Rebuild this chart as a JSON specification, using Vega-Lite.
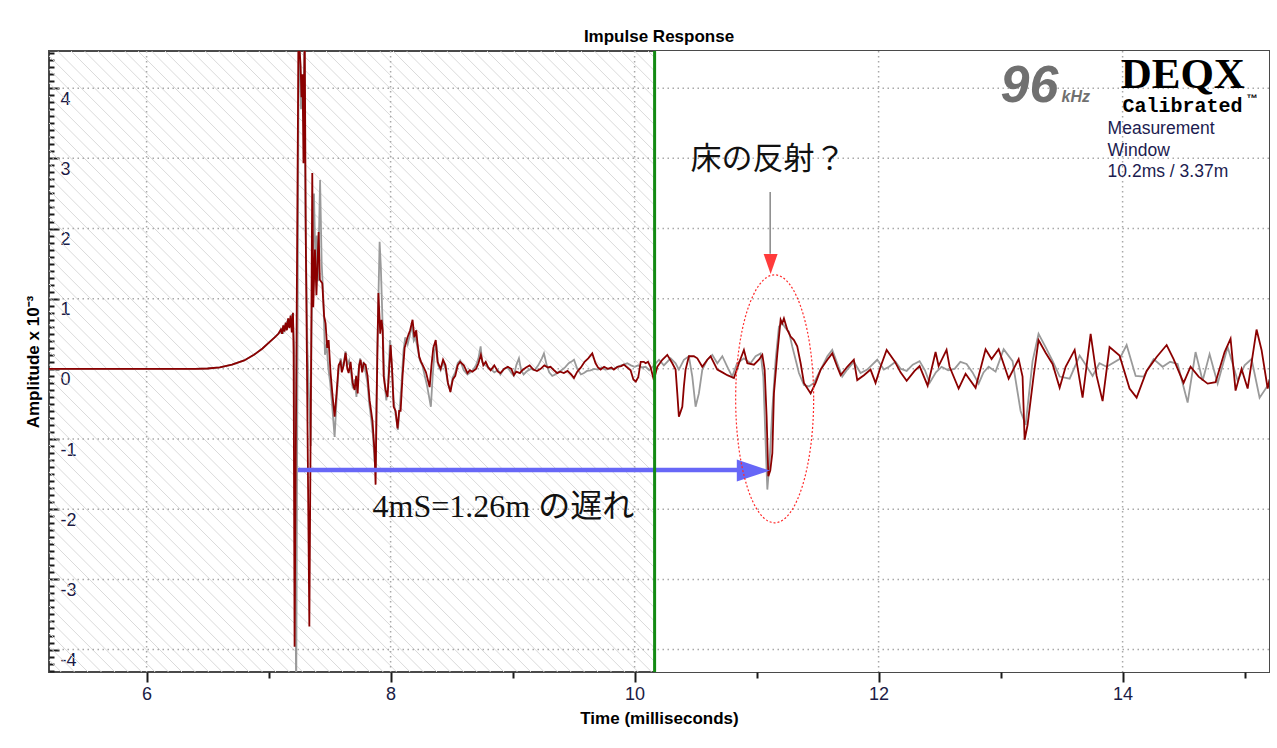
{
  "$schema": "https://vega.github.io/schema/vega-lite/v6.json",
  "width": 1220,
  "height": 621,
  "autosize": {"type": "none"},
  "padding": {"left": 49, "top": 51, "right": 8, "bottom": 76},
  "background": "white",
  "config": {"view": {"stroke": "#4a4a4a", "strokeWidth": 2}},
  "title": {"text": "Impulse Response", "font": "Liberation Sans", "fontSize": 17, "fontWeight": "bold", "color": "#000000", "anchor": "middle", "frame": "group", "offset": 4},
  "datasets": {
    "hatch": [{"h":0.1},{"h":0.21},{"h":0.32},{"h":0.43},{"h":0.54},{"h":0.65},{"h":0.76},{"h":0.87},{"h":0.98},{"h":1.09},{"h":1.2},{"h":1.31},{"h":1.42},{"h":1.53},{"h":1.64},{"h":1.75},{"h":1.86},{"h":1.97},{"h":2.08},{"h":2.19},{"h":2.3},{"h":2.41},{"h":2.52},{"h":2.63},{"h":2.74},{"h":2.85},{"h":2.96},{"h":3.07},{"h":3.18},{"h":3.29},{"h":3.4},{"h":3.51},{"h":3.62},{"h":3.73},{"h":3.84},{"h":3.95},{"h":4.06},{"h":4.17},{"h":4.28},{"h":4.39},{"h":4.5},{"h":4.61},{"h":4.72},{"h":4.83},{"h":4.94},{"h":5.05},{"h":5.16},{"h":5.27},{"h":5.38},{"h":5.49},{"h":5.6},{"h":5.71},{"h":5.82},{"h":5.93},{"h":6.04},{"h":6.15},{"h":6.26},{"h":6.37},{"h":6.48},{"h":6.59},{"h":6.7},{"h":6.81},{"h":6.92},{"h":7.03},{"h":7.14},{"h":7.25},{"h":7.36},{"h":7.47},{"h":7.58},{"h":7.69},{"h":7.8},{"h":7.91},{"h":8.02},{"h":8.13},{"h":8.24},{"h":8.35},{"h":8.46},{"h":8.57},{"h":8.68},{"h":8.79},{"h":8.9},{"h":9.01},{"h":9.12},{"h":9.23},{"h":9.34},{"h":9.45},{"h":9.56},{"h":9.67},{"h":9.78},{"h":9.89},{"h":10.0},{"h":10.11}],
    "xgrid": [{"v":6},{"v":8},{"v":10},{"v":12},{"v":14}],
    "ygrid": [{"v":-4},{"v":-3},{"v":-2},{"v":-1},{"v":0},{"v":1},{"v":2},{"v":3},{"v":4}],
    "gray": [{"t":5.2,"a":0},{"t":6.4,"a":0},{"t":6.5,"a":0.005},{"t":6.6,"a":0.02},{"t":6.7,"a":0.06},{"t":6.8,"a":0.12},{"t":6.88,"a":0.2},{"t":6.95,"a":0.29},{"t":7.0,"a":0.37},{"t":7.05,"a":0.45},{"t":7.08,"a":0.5},{"t":7.1,"a":0.52},{"t":7.11,"a":0.58},{"t":7.12,"a":0.5},{"t":7.13,"a":0.63},{"t":7.14,"a":0.55},{"t":7.15,"a":0.68},{"t":7.16,"a":0.6},{"t":7.17,"a":0.72},{"t":7.18,"a":0.62},{"t":7.19,"a":0.78},{"t":7.2,"a":0.7},{"t":7.21,"a":0.3},{"t":7.226,"a":-4.8},{"t":7.247,"a":4.8},{"t":7.258,"a":4.3},{"t":7.266,"a":3.7},{"t":7.275,"a":4.1},{"t":7.284,"a":3.6},{"t":7.293,"a":4.6},{"t":7.302,"a":2.2},{"t":7.318,"a":0.3},{"t":7.345,"a":-1.1},{"t":7.352,"a":0.5},{"t":7.372,"a":2.5},{"t":7.385,"a":1.4},{"t":7.395,"a":1.9},{"t":7.405,"a":1.25},{"t":7.422,"a":2.69},{"t":7.435,"a":1.5},{"t":7.448,"a":1.05},{"t":7.462,"a":0.2},{"t":7.475,"a":0.35},{"t":7.49,"a":0.0},{"t":7.505,"a":-0.2},{"t":7.52,"a":-0.5},{"t":7.541,"a":-0.97},{"t":7.557,"a":-0.45},{"t":7.574,"a":0.0},{"t":7.59,"a":0.15},{"t":7.605,"a":0.0},{"t":7.62,"a":0.12},{"t":7.631,"a":0.25},{"t":7.645,"a":0.05},{"t":7.66,"a":0.12},{"t":7.675,"a":-0.05},{"t":7.69,"a":-0.28},{"t":7.705,"a":-0.15},{"t":7.72,"a":-0.4},{"t":7.735,"a":-0.05},{"t":7.75,"a":0.15},{"t":7.765,"a":0.0},{"t":7.78,"a":0.1},{"t":7.795,"a":-0.05},{"t":7.81,"a":-0.2},{"t":7.825,"a":-0.5},{"t":7.84,"a":-0.7},{"t":7.855,"a":-0.95},{"t":7.868,"a":-1.3},{"t":7.878,"a":-1.45},{"t":7.89,"a":0.2},{"t":7.91,"a":1.81},{"t":7.92,"a":1.45},{"t":7.935,"a":0.6},{"t":7.95,"a":-0.2},{"t":7.965,"a":-0.45},{"t":7.98,"a":-0.2},{"t":7.995,"a":0.41},{"t":8.01,"a":0.05},{"t":8.025,"a":-0.45},{"t":8.045,"a":-0.7},{"t":8.06,"a":-0.87},{"t":8.075,"a":-0.55},{"t":8.09,"a":-0.2},{"t":8.105,"a":0.25},{"t":8.12,"a":0.45},{"t":8.14,"a":0.35},{"t":8.16,"a":0.5},{"t":8.175,"a":0.62},{"t":8.19,"a":0.4},{"t":8.205,"a":0.45},{"t":8.22,"a":0.3},{"t":8.24,"a":0.12},{"t":8.26,"a":0.05},{"t":8.28,"a":-0.1},{"t":8.3,"a":-0.25},{"t":8.33,"a":-0.54},{"t":8.345,"a":-0.1},{"t":8.36,"a":0.25},{"t":8.375,"a":0.35},{"t":8.39,"a":0.05},{"t":8.41,"a":-0.02},{"t":8.43,"a":0.1},{"t":8.45,"a":0.0},{"t":8.47,"a":-0.22},{"t":8.49,"a":-0.3},{"t":8.51,"a":-0.12},{"t":8.53,"a":-0.05},{"t":8.55,"a":0.08},{"t":8.57,"a":0.12},{"t":8.6,"a":-0.02},{"t":8.63,"a":-0.08},{"t":8.67,"a":-0.03},{"t":8.7,"a":0.05},{"t":8.72,"a":0.15},{"t":8.738,"a":0.32},{"t":8.75,"a":0.1},{"t":8.77,"a":0.06},{"t":8.8,"a":0.02},{"t":8.82,"a":0.0},{"t":8.85,"a":-0.05},{"t":8.88,"a":-0.02},{"t":8.9,"a":-0.08},{"t":8.93,"a":0.0},{"t":8.96,"a":0.02},{"t":8.99,"a":-0.06},{"t":9.01,"a":-0.1},{"t":9.03,"a":0.05},{"t":9.052,"a":0.15},{"t":9.07,"a":-0.02},{"t":9.09,"a":-0.08},{"t":9.12,"a":-0.03},{"t":9.15,"a":0.0},{"t":9.18,"a":-0.02},{"t":9.21,"a":0.05},{"t":9.24,"a":0.15},{"t":9.257,"a":0.22},{"t":9.28,"a":0.05},{"t":9.3,"a":-0.05},{"t":9.325,"a":-0.1},{"t":9.35,"a":-0.08},{"t":9.37,"a":-0.05},{"t":9.4,"a":-0.02},{"t":9.43,"a":0.02},{"t":9.46,"a":0.08},{"t":9.48,"a":0.1},{"t":9.503,"a":0.13},{"t":9.53,"a":0.0},{"t":9.56,"a":-0.08},{"t":9.585,"a":-0.06},{"t":9.61,"a":-0.03},{"t":9.64,"a":-0.02},{"t":9.67,"a":0.0},{"t":9.7,"a":-0.01},{"t":9.73,"a":0.02},{"t":9.76,"a":-0.01},{"t":9.8,"a":0.0},{"t":9.83,"a":0.0},{"t":9.86,"a":0.03},{"t":9.89,"a":0.05},{"t":9.91,"a":0.06},{"t":9.94,"a":0.08},{"t":9.97,"a":0.05},{"t":10.0,"a":0.03},{"t":10.03,"a":0.05},{"t":10.06,"a":0.02},{"t":10.09,"a":0.03},{"t":10.12,"a":-0.02},{"t":10.158,"a":0.05},{"t":10.2,"a":0.13},{"t":10.24,"a":0.05},{"t":10.295,"a":0.15},{"t":10.336,"a":0.08},{"t":10.363,"a":-0.01},{"t":10.404,"a":0.13},{"t":10.445,"a":0.18},{"t":10.473,"a":-0.11},{"t":10.5,"a":-0.54},{"t":10.527,"a":-0.35},{"t":10.555,"a":-0.01},{"t":10.596,"a":0.13},{"t":10.637,"a":0.2},{"t":10.678,"a":0.08},{"t":10.719,"a":0.18},{"t":10.76,"a":0.03},{"t":10.8,"a":-0.11},{"t":10.84,"a":0.08},{"t":10.896,"a":0.15},{"t":10.95,"a":0.08},{"t":10.992,"a":0.18},{"t":11.033,"a":0.22},{"t":11.055,"a":-0.11},{"t":11.074,"a":-1.06},{"t":11.088,"a":-1.72},{"t":11.107,"a":-1.3},{"t":11.129,"a":-0.58},{"t":11.156,"a":0.13},{"t":11.183,"a":0.6},{"t":11.21,"a":0.65},{"t":11.238,"a":0.58},{"t":11.265,"a":0.53},{"t":11.292,"a":0.32},{"t":11.32,"a":0.13},{"t":11.347,"a":-0.06},{"t":11.388,"a":-0.23},{"t":11.429,"a":-0.25},{"t":11.47,"a":-0.2},{"t":11.525,"a":-0.01},{"t":11.58,"a":0.18},{"t":11.62,"a":0.27},{"t":11.661,"a":0.08},{"t":11.702,"a":-0.11},{"t":11.743,"a":-0.01},{"t":11.797,"a":0.1},{"t":11.852,"a":-0.06},{"t":11.907,"a":-0.01},{"t":11.989,"a":0.13},{"t":12.043,"a":-0.01},{"t":12.085,"a":0.03},{"t":12.139,"a":0.1},{"t":12.18,"a":0.0},{"t":12.23,"a":-0.03},{"t":12.28,"a":0.06},{"t":12.336,"a":0.11},{"t":12.38,"a":-0.02},{"t":12.418,"a":-0.2},{"t":12.47,"a":-0.05},{"t":12.516,"a":0.03},{"t":12.57,"a":-0.02},{"t":12.623,"a":0.0},{"t":12.67,"a":0.1},{"t":12.721,"a":0.07},{"t":12.77,"a":-0.05},{"t":12.82,"a":-0.21},{"t":12.86,"a":-0.05},{"t":12.902,"a":0.03},{"t":12.959,"a":-0.04},{"t":13.025,"a":0.28},{"t":13.098,"a":0.11},{"t":13.164,"a":-0.6},{"t":13.205,"a":-0.8},{"t":13.262,"a":0.11},{"t":13.311,"a":0.5},{"t":13.369,"a":0.31},{"t":13.43,"a":0.1},{"t":13.484,"a":-0.11},{"t":13.566,"a":-0.14},{"t":13.648,"a":0.19},{"t":13.7,"a":0.05},{"t":13.754,"a":-0.1},{"t":13.81,"a":0.08},{"t":13.869,"a":0.03},{"t":13.975,"a":0.14},{"t":14.033,"a":0.34},{"t":14.107,"a":-0.1},{"t":14.172,"a":-0.11},{"t":14.254,"a":0.14},{"t":14.328,"a":0.03},{"t":14.39,"a":0.1},{"t":14.451,"a":0.07},{"t":14.533,"a":-0.48},{"t":14.598,"a":0.24},{"t":14.656,"a":-0.17},{"t":14.713,"a":0.21},{"t":14.779,"a":-0.21},{"t":14.861,"a":0.31},{"t":14.943,"a":-0.17},{"t":15.0,"a":0.05},{"t":15.057,"a":0.14},{"t":15.123,"a":-0.41},{"t":15.189,"a":-0.24},{"t":15.238,"a":0.03}],
    "red": [{"t":5.2,"a":0},{"t":6.4,"a":0},{"t":6.5,"a":0.005},{"t":6.6,"a":0.02},{"t":6.7,"a":0.06},{"t":6.8,"a":0.12},{"t":6.88,"a":0.2},{"t":6.95,"a":0.29},{"t":7.0,"a":0.37},{"t":7.05,"a":0.45},{"t":7.08,"a":0.5},{"t":7.1,"a":0.56},{"t":7.11,"a":0.5},{"t":7.12,"a":0.62},{"t":7.13,"a":0.53},{"t":7.14,"a":0.66},{"t":7.15,"a":0.55},{"t":7.16,"a":0.72},{"t":7.17,"a":0.58},{"t":7.18,"a":0.76},{"t":7.19,"a":0.52},{"t":7.2,"a":0.8},{"t":7.205,"a":0.23},{"t":7.213,"a":-3.96},{"t":7.245,"a":4.8},{"t":7.262,"a":4.33},{"t":7.27,"a":3.87},{"t":7.278,"a":4.2},{"t":7.286,"a":2.93},{"t":7.296,"a":4.8},{"t":7.305,"a":1.84},{"t":7.334,"a":-3.67},{"t":7.35,"a":0.5},{"t":7.358,"a":2.79},{"t":7.366,"a":0.88},{"t":7.38,"a":1.7},{"t":7.392,"a":1.05},{"t":7.41,"a":1.95},{"t":7.42,"a":1.27},{"t":7.44,"a":1.22},{"t":7.455,"a":0.75},{"t":7.467,"a":0.65},{"t":7.48,"a":0.3},{"t":7.492,"a":0.41},{"t":7.508,"a":-0.06},{"t":7.525,"a":-0.4},{"t":7.541,"a":-0.68},{"t":7.557,"a":-0.35},{"t":7.574,"a":0.05},{"t":7.59,"a":0.1},{"t":7.6,"a":-0.05},{"t":7.615,"a":0.05},{"t":7.631,"a":0.23},{"t":7.645,"a":0.0},{"t":7.656,"a":-0.06},{"t":7.672,"a":0.1},{"t":7.689,"a":-0.2},{"t":7.705,"a":-0.3},{"t":7.718,"a":-0.1},{"t":7.73,"a":-0.35},{"t":7.742,"a":0.05},{"t":7.754,"a":0.13},{"t":7.767,"a":-0.05},{"t":7.779,"a":0.08},{"t":7.795,"a":0.06},{"t":7.811,"a":-0.1},{"t":7.828,"a":-0.45},{"t":7.84,"a":-0.6},{"t":7.852,"a":-0.75},{"t":7.869,"a":-1.2},{"t":7.877,"a":-1.65},{"t":7.885,"a":-0.5},{"t":7.9,"a":1.08},{"t":7.915,"a":0.5},{"t":7.926,"a":0.7},{"t":7.935,"a":0.55},{"t":7.943,"a":-0.1},{"t":7.959,"a":-0.3},{"t":7.975,"a":-0.4},{"t":7.99,"a":0.05},{"t":8.0,"a":0.34},{"t":8.012,"a":0.0},{"t":8.025,"a":-0.54},{"t":8.041,"a":-0.6},{"t":8.057,"a":-0.85},{"t":8.07,"a":-0.6},{"t":8.082,"a":-0.6},{"t":8.098,"a":-0.1},{"t":8.115,"a":0.3},{"t":8.139,"a":0.45},{"t":8.16,"a":0.55},{"t":8.18,"a":0.7},{"t":8.195,"a":0.45},{"t":8.21,"a":0.55},{"t":8.22,"a":0.37},{"t":8.235,"a":0.17},{"t":8.25,"a":0.1},{"t":8.27,"a":0.03},{"t":8.29,"a":-0.05},{"t":8.32,"a":-0.26},{"t":8.335,"a":0.05},{"t":8.35,"a":0.3},{"t":8.37,"a":0.41},{"t":8.385,"a":0.1},{"t":8.41,"a":0.0},{"t":8.43,"a":0.13},{"t":8.45,"a":0.05},{"t":8.47,"a":-0.2},{"t":8.49,"a":-0.33},{"t":8.51,"a":-0.15},{"t":8.53,"a":-0.1},{"t":8.55,"a":0.05},{"t":8.57,"a":0.1},{"t":8.6,"a":0.05},{"t":8.63,"a":-0.06},{"t":8.65,"a":-0.02},{"t":8.67,"a":-0.04},{"t":8.7,"a":0.0},{"t":8.72,"a":0.08},{"t":8.74,"a":0.2},{"t":8.76,"a":0.05},{"t":8.78,"a":0.1},{"t":8.8,"a":0.02},{"t":8.82,"a":-0.02},{"t":8.85,"a":0.05},{"t":8.88,"a":-0.04},{"t":8.9,"a":-0.06},{"t":8.93,"a":0.0},{"t":8.96,"a":0.03},{"t":8.99,"a":0.0},{"t":9.01,"a":-0.09},{"t":9.03,"a":-0.04},{"t":9.06,"a":-0.06},{"t":9.08,"a":-0.02},{"t":9.11,"a":0.02},{"t":9.14,"a":0.05},{"t":9.17,"a":-0.01},{"t":9.2,"a":-0.03},{"t":9.23,"a":0.0},{"t":9.26,"a":0.05},{"t":9.29,"a":0.02},{"t":9.311,"a":0.03},{"t":9.34,"a":-0.02},{"t":9.366,"a":-0.06},{"t":9.39,"a":-0.04},{"t":9.42,"a":-0.06},{"t":9.45,"a":-0.03},{"t":9.48,"a":-0.08},{"t":9.503,"a":-0.13},{"t":9.53,"a":-0.04},{"t":9.56,"a":0.02},{"t":9.59,"a":0.1},{"t":9.62,"a":0.15},{"t":9.653,"a":0.22},{"t":9.68,"a":0.08},{"t":9.7,"a":0.02},{"t":9.721,"a":-0.01},{"t":9.75,"a":0.03},{"t":9.78,"a":0.0},{"t":9.81,"a":0.02},{"t":9.83,"a":-0.01},{"t":9.86,"a":0.03},{"t":9.89,"a":0.04},{"t":9.912,"a":0.06},{"t":9.94,"a":0.02},{"t":9.967,"a":-0.02},{"t":9.99,"a":-0.15},{"t":10.01,"a":-0.18},{"t":10.03,"a":-0.12},{"t":10.05,"a":0.1},{"t":10.076,"a":0.1},{"t":10.09,"a":0.08},{"t":10.11,"a":0.1},{"t":10.13,"a":0.03},{"t":10.158,"a":-0.16},{"t":10.186,"a":0.03},{"t":10.227,"a":0.13},{"t":10.268,"a":0.2},{"t":10.309,"a":0.08},{"t":10.336,"a":-0.01},{"t":10.35,"a":-0.35},{"t":10.363,"a":-0.68},{"t":10.391,"a":-0.54},{"t":10.404,"a":-0.25},{"t":10.418,"a":-0.01},{"t":10.445,"a":0.18},{"t":10.486,"a":0.18},{"t":10.514,"a":0.15},{"t":10.555,"a":0.03},{"t":10.596,"a":0.13},{"t":10.623,"a":0.18},{"t":10.678,"a":-0.01},{"t":10.72,"a":-0.05},{"t":10.76,"a":-0.09},{"t":10.814,"a":-0.13},{"t":10.855,"a":0.08},{"t":10.896,"a":0.27},{"t":10.924,"a":0.08},{"t":10.978,"a":0.06},{"t":11.019,"a":0.13},{"t":11.047,"a":0.2},{"t":11.066,"a":-0.01},{"t":11.082,"a":-0.68},{"t":11.096,"a":-1.53},{"t":11.112,"a":-1.45},{"t":11.129,"a":-1.2},{"t":11.142,"a":-0.35},{"t":11.17,"a":0.22},{"t":11.197,"a":0.7},{"t":11.21,"a":0.65},{"t":11.224,"a":0.72},{"t":11.251,"a":0.56},{"t":11.279,"a":0.46},{"t":11.306,"a":0.41},{"t":11.333,"a":0.32},{"t":11.361,"a":0.08},{"t":11.388,"a":-0.2},{"t":11.443,"a":-0.35},{"t":11.484,"a":-0.2},{"t":11.525,"a":-0.01},{"t":11.58,"a":0.13},{"t":11.62,"a":0.22},{"t":11.661,"a":0.03},{"t":11.689,"a":-0.09},{"t":11.743,"a":0.03},{"t":11.797,"a":0.13},{"t":11.825,"a":-0.16},{"t":11.88,"a":-0.09},{"t":11.934,"a":-0.01},{"t":11.975,"a":-0.2},{"t":12.016,"a":0.03},{"t":12.066,"a":0.27},{"t":12.131,"a":0.11},{"t":12.18,"a":-0.05},{"t":12.23,"a":-0.17},{"t":12.295,"a":-0.03},{"t":12.336,"a":0.04},{"t":12.402,"a":-0.24},{"t":12.467,"a":0.24},{"t":12.492,"a":0.04},{"t":12.557,"a":0.27},{"t":12.582,"a":0.03},{"t":12.656,"a":-0.28},{"t":12.713,"a":-0.07},{"t":12.795,"a":-0.27},{"t":12.877,"a":0.28},{"t":12.926,"a":0.14},{"t":12.984,"a":0.28},{"t":13.066,"a":-0.14},{"t":13.148,"a":0.14},{"t":13.18,"a":-0.11},{"t":13.197,"a":-1.01},{"t":13.221,"a":-0.8},{"t":13.27,"a":-0.11},{"t":13.311,"a":0.41},{"t":13.369,"a":0.23},{"t":13.426,"a":0.07},{"t":13.484,"a":-0.27},{"t":13.533,"a":0.03},{"t":13.607,"a":0.27},{"t":13.672,"a":-0.41},{"t":13.738,"a":0.5},{"t":13.787,"a":-0.1},{"t":13.836,"a":-0.46},{"t":13.893,"a":0.31},{"t":13.975,"a":0.19},{"t":14.057,"a":-0.28},{"t":14.115,"a":-0.41},{"t":14.197,"a":-0.03},{"t":14.279,"a":0.17},{"t":14.361,"a":0.34},{"t":14.418,"a":0.14},{"t":14.5,"a":-0.2},{"t":14.557,"a":0.03},{"t":14.623,"a":-0.11},{"t":14.697,"a":-0.21},{"t":14.762,"a":-0.19},{"t":14.836,"a":0.24},{"t":14.885,"a":0.43},{"t":14.926,"a":-0.31},{"t":14.975,"a":0.0},{"t":15.025,"a":-0.28},{"t":15.098,"a":0.56},{"t":15.139,"a":0.27},{"t":15.189,"a":-0.28},{"t":15.238,"a":0.1}]
  },
  "layer": [
    {
      "data": {"name": "hatch"},
      "mark": {"type": "rule", "clip": true, "stroke": "#dadada", "strokeWidth": 1, "x2Offset": 621},
      "encoding": {
        "x": {"field": "h", "type": "quantitative"},
        "x2": {"field": "h"},
        "y": {"datum": 4.53, "type": "quantitative"},
        "y2": {"datum": -4.32}
      }
    },
    {
      "data": {"values": [{}]},
      "mark": {"type": "rect", "fill": "#ffffff"},
      "encoding": {
        "x": {"datum": 10.165, "type": "quantitative"},
        "x2": {"datum": 15.2},
        "y": {"datum": 4.53, "type": "quantitative"},
        "y2": {"datum": -4.32}
      }
    },
    {
      "data": {"name": "xgrid"},
      "mark": {"type": "rule", "stroke": "#a8a8a8", "strokeWidth": 1.5, "strokeDash": [1.5, 3.5]},
      "encoding": {"x": {"field": "v", "type": "quantitative"}}
    },
    {
      "data": {"name": "ygrid"},
      "mark": {"type": "rule", "stroke": "#a8a8a8", "strokeWidth": 1.5, "strokeDash": [1.5, 3.5]},
      "encoding": {"y": {"field": "v", "type": "quantitative"}}
    },
    {
      "data": {"name": "gray"},
      "mark": {"type": "line", "clip": true, "stroke": "#9a9a9a", "strokeWidth": 1.8},
      "encoding": {
        "x": {"field": "t", "type": "quantitative", "scale": {"domain": [5.2, 15.2], "nice": false, "zero": false},
          "axis": {"title": "Time (milliseconds)", "titleFont": "Liberation Sans", "titleFontSize": 17, "titleFontWeight": "bold", "titleColor": "#000000", "titlePadding": 7,
            "values": [6, 7, 8, 9, 10, 11, 12, 13, 14, 15], "grid": false, "domain": false,
            "tickColor": "#1a1a1a", "tickWidth": 2,
            "tickSize": {"condition": {"test": "datum.value % 2 === 1", "value": 6}, "value": 10},
            "labelExpr": "datum.value % 2 === 0 ? '' + datum.value : ''",
            "labelFont": "Liberation Sans", "labelFontSize": 18, "labelColor": "#1b1b45", "labelPadding": 3,
            "labelOverlap": false, "labelFlush": false}},
        "y": {"field": "a", "type": "quantitative", "scale": {"domain": [-4.32, 4.53], "nice": false, "zero": false},
          "axis": {"title": "Amplitude x 10⁻³", "titleFont": "Liberation Sans", "titleFontSize": 17, "titleFontWeight": "bold", "titleColor": "#000000", "titlePadding": 6,
            "tickCount": 90, "grid": false, "domain": false,
            "tickColor": "#1a1a1a", "tickWidth": 2,
            "tickSize": {"condition": {"test": "abs(datum.value - round(datum.value)) < 0.01", "value": -10}, "value": -5},
            "labelExpr": "abs(datum.value - round(datum.value)) < 0.01 ? '' + round(datum.value) : ''",
            "labelAlign": "left", "labelBaseline": "top", "labelOffset": 2, "labelPadding": -1,
            "labelFont": "Liberation Sans", "labelFontSize": 18, "labelColor": "#1b1b45",
            "labelOverlap": false, "labelFlush": false, "labelBound": false}}
      }
    },
    {
      "data": {"name": "red"},
      "mark": {"type": "line", "clip": true, "stroke": "#8b0000", "strokeWidth": 1.8},
      "encoding": {"x": {"field": "t", "type": "quantitative"}, "y": {"field": "a", "type": "quantitative"}}
    },
    {
      "data": {"values": [{}]},
      "mark": {"type": "rule", "stroke": "#6767f7", "strokeWidth": 4.5},
      "encoding": {
        "x": {"datum": 7.24, "type": "quantitative"},
        "x2": {"datum": 10.85},
        "y": {"datum": -1.44, "type": "quantitative"}
      }
    },
    {
      "data": {"values": [{}]},
      "mark": {"type": "point", "shape": "M -1 -0.667 L 1 0 L -1 0.667 Z", "size": 1089, "filled": true, "fill": "#6767f7", "strokeWidth": 0, "opacity": 1},
      "encoding": {
        "x": {"datum": 10.973, "type": "quantitative"},
        "y": {"datum": -1.45, "type": "quantitative"}
      }
    },
    {
      "data": {"values": [{}]},
      "mark": {"type": "rule", "stroke": "#138a13", "strokeWidth": 3},
      "encoding": {"x": {"datum": 10.164, "type": "quantitative"}}
    },
    {
      "data": {"values": [{}]},
      "mark": {"type": "point", "shape": "M 0.3145 0 C 0.3145 0.5523 0.1737 1 0 1 C -0.1737 1 -0.3145 0.5523 -0.3145 0 C -0.3145 -0.5523 -0.1737 -1 0 -1 C 0.1737 -1 0.3145 -0.5523 0.3145 0 Z", "size": 61504, "filled": false, "stroke": "#ff2a2a", "strokeWidth": 1.2, "strokeDash": [2, 2], "opacity": 1},
      "encoding": {
        "x": {"datum": 11.148, "type": "quantitative"},
        "y": {"datum": -0.427, "type": "quantitative"}
      }
    },
    {
      "data": {"values": [{}]},
      "mark": {"type": "rule", "stroke": "#6a6a6a", "strokeWidth": 1.2},
      "encoding": {
        "x": {"datum": 11.111, "type": "quantitative"},
        "y": {"datum": 2.52, "type": "quantitative"},
        "y2": {"datum": 1.64}
      }
    },
    {
      "data": {"values": [{}]},
      "mark": {"type": "point", "shape": "M -0.7 -1 L 0.7 -1 L 0 1 Z", "size": 400, "filled": true, "fill": "#ff3b3b", "strokeWidth": 0, "opacity": 1},
      "encoding": {
        "x": {"datum": 11.115, "type": "quantitative"},
        "y": {"datum": 1.496, "type": "quantitative"}
      }
    },
    {
      "data": {"values": [{}]},
      "mark": {"type": "text", "text": "床の反射？", "font": "Noto Sans CJK JP", "fontSize": 31, "fill": "#111111", "align": "left", "baseline": "middle"},
      "encoding": {
        "x": {"datum": 10.459, "type": "quantitative"},
        "y": {"datum": 2.977, "type": "quantitative"}
      }
    },
    {
      "data": {"values": [{}]},
      "mark": {"type": "text", "text": "4mS=1.26m の遅れ", "font": "Liberation Serif, Noto Sans CJK JP", "fontSize": 32, "fill": "#111111", "align": "left", "baseline": "middle"},
      "encoding": {
        "x": {"datum": 7.852, "type": "quantitative"},
        "y": {"datum": -1.966, "type": "quantitative"}
      }
    },
    {
      "data": {"values": [{}]},
      "mark": {"type": "text", "text": "96", "font": "Liberation Sans", "fontSize": 52, "fontWeight": "bold", "fontStyle": "italic", "fill": "#707070", "align": "left", "baseline": "alphabetic"},
      "encoding": {
        "x": {"datum": 13.0, "type": "quantitative"},
        "y": {"datum": 3.803, "type": "quantitative"}
      }
    },
    {
      "data": {"values": [{}]},
      "mark": {"type": "text", "text": "kHz", "font": "Liberation Sans", "fontSize": 16, "fontWeight": "bold", "fontStyle": "italic", "fill": "#707070", "align": "left", "baseline": "alphabetic"},
      "encoding": {
        "x": {"datum": 13.5, "type": "quantitative"},
        "y": {"datum": 3.803, "type": "quantitative"}
      }
    },
    {
      "data": {"values": [{}]},
      "mark": {"type": "text", "text": "DEQX", "font": "Liberation Serif", "fontSize": 43, "fontWeight": "bold", "fill": "#000000", "align": "left", "baseline": "alphabetic"},
      "encoding": {
        "x": {"datum": 13.984, "type": "quantitative"},
        "y": {"datum": 4.0, "type": "quantitative"}
      }
    },
    {
      "data": {"values": [{}]},
      "mark": {"type": "text", "text": "Calibrated", "font": "Liberation Mono", "fontSize": 20, "fontWeight": "bold", "fill": "#000000", "align": "left", "baseline": "alphabetic"},
      "encoding": {
        "x": {"datum": 14.0, "type": "quantitative"},
        "y": {"datum": 3.66, "type": "quantitative"}
      }
    },
    {
      "data": {"values": [{}]},
      "mark": {"type": "text", "text": "™", "font": "Liberation Sans", "fontSize": 11, "fontWeight": "bold", "fill": "#000000", "align": "left", "baseline": "alphabetic"},
      "encoding": {
        "x": {"datum": 15.016, "type": "quantitative"},
        "y": {"datum": 3.8, "type": "quantitative"}
      }
    },
    {
      "data": {"values": [{}]},
      "mark": {"type": "text", "text": ["Measurement", "Window", "10.2ms / 3.37m"], "font": "Liberation Sans", "fontSize": 17.5, "lineHeight": 21.5, "fill": "#1c1c50", "align": "left", "baseline": "alphabetic"},
      "encoding": {
        "x": {"datum": 13.877, "type": "quantitative"},
        "y": {"datum": 3.345, "type": "quantitative"}
      }
    }
  ]
}
